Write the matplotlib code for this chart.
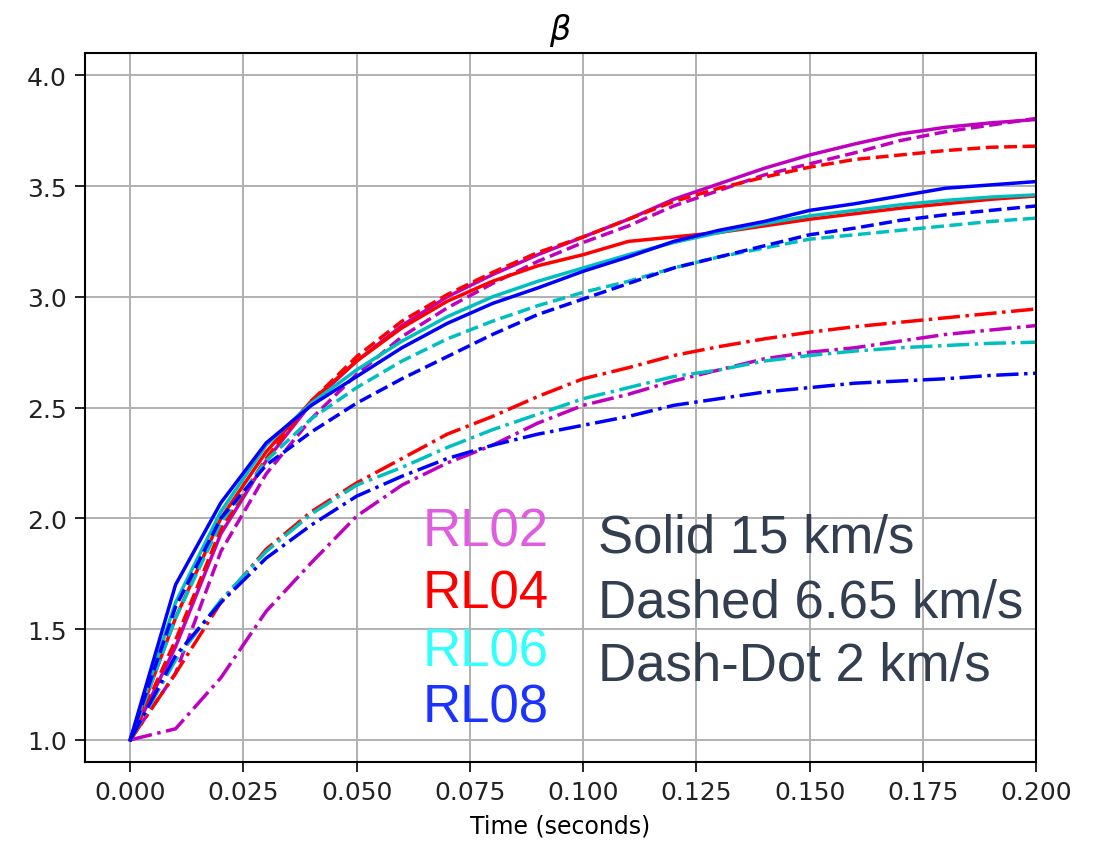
import matplotlib
matplotlib.use('Agg')
import matplotlib.pyplot as plt

# time axis (seconds)
t = [0.00, 0.01, 0.02, 0.03, 0.04, 0.05, 0.06, 0.07, 0.08, 0.09, 0.10,
     0.11, 0.12, 0.13, 0.14, 0.15, 0.16, 0.17, 0.18, 0.19, 0.20]

# Solid, 15 km/s
rl02_solid = [1.0, 1.42, 1.93, 2.26, 2.52, 2.71, 2.87, 3.00, 3.10, 3.19, 3.27,
              3.35, 3.44, 3.51, 3.58, 3.64, 3.69, 3.735, 3.765, 3.785, 3.80]
rl04_solid = [1.0, 1.55, 2.00, 2.30, 2.53, 2.71, 2.86, 2.98, 3.07, 3.14, 3.19,
              3.25, 3.27, 3.29, 3.32, 3.35, 3.375, 3.40, 3.42, 3.44, 3.455]
rl06_solid = [1.0, 1.62, 2.03, 2.33, 2.52, 2.67, 2.80, 2.91, 3.00, 3.07, 3.13,
              3.19, 3.245, 3.29, 3.33, 3.365, 3.39, 3.415, 3.435, 3.45, 3.46]
rl08_solid = [1.0, 1.70, 2.07, 2.34, 2.51, 2.64, 2.77, 2.88, 2.97, 3.04, 3.115,
              3.18, 3.25, 3.30, 3.34, 3.39, 3.42, 3.455, 3.49, 3.505, 3.52]

# Dashed, 6.65 km/s
rl02_dash = [1.0, 1.30, 1.85, 2.20, 2.45, 2.65, 2.82, 2.95, 3.06, 3.16, 3.245,
             3.32, 3.41, 3.48, 3.55, 3.60, 3.65, 3.705, 3.745, 3.775, 3.805]
rl04_dash = [1.0, 1.45, 1.95, 2.27, 2.53, 2.73, 2.89, 3.01, 3.11, 3.20, 3.27,
             3.35, 3.43, 3.49, 3.54, 3.585, 3.62, 3.64, 3.66, 3.675, 3.68]
rl06_dash = [1.0, 1.55, 1.98, 2.26, 2.45, 2.59, 2.71, 2.81, 2.89, 2.96, 3.02,
             3.07, 3.13, 3.18, 3.22, 3.26, 3.28, 3.30, 3.32, 3.34, 3.355]
rl08_dash = [1.0, 1.60, 2.00, 2.24, 2.39, 2.52, 2.63, 2.73, 2.83, 2.92, 2.99,
             3.06, 3.13, 3.18, 3.23, 3.28, 3.31, 3.345, 3.37, 3.39, 3.41]

# Dash-dot, 2 km/s
rl02_dd = [1.0, 1.05, 1.28, 1.58, 1.80, 2.01, 2.15, 2.25, 2.33, 2.43, 2.51,
           2.56, 2.62, 2.67, 2.72, 2.75, 2.77, 2.80, 2.83, 2.85, 2.87]
rl04_dd = [1.0, 1.30, 1.62, 1.86, 2.03, 2.16, 2.27, 2.38, 2.46, 2.55, 2.63,
           2.68, 2.735, 2.775, 2.81, 2.84, 2.865, 2.885, 2.905, 2.925, 2.945]
rl06_dd = [1.0, 1.36, 1.63, 1.85, 2.02, 2.15, 2.23, 2.32, 2.40, 2.47, 2.54,
           2.59, 2.64, 2.67, 2.71, 2.735, 2.755, 2.77, 2.78, 2.79, 2.795]
rl08_dd = [1.0, 1.38, 1.62, 1.82, 1.97, 2.10, 2.19, 2.27, 2.33, 2.38, 2.42,
           2.46, 2.51, 2.54, 2.57, 2.59, 2.61, 2.62, 2.63, 2.645, 2.655]

cases = ['RL02', 'RL04', 'RL06', 'RL08']
line_colors = ['m', 'r', 'c', 'b']
label_colors = ['#E05CE0', '#FF0000', '#33FFFF', '#1A33FF']
solid = [rl02_solid, rl04_solid, rl06_solid, rl08_solid]
dashed = [rl02_dash, rl04_dash, rl06_dash, rl08_dash]
dashdot = [rl02_dd, rl04_dd, rl06_dd, rl08_dd]
speed_labels = ['Solid 15 km/s', 'Dashed 6.65 km/s', 'Dash-Dot 2 km/s']

fig = plt.figure(figsize=(10.99, 8.45), dpi=100)
ax = fig.add_axes([0.0773, 0.097, 0.8654, 0.839])

for i in range(4):
    ax.plot(t, solid[i], '-', color=line_colors[i], lw=2.5)
    ax.plot(t, dashed[i], '--', color=line_colors[i], lw=2.5)
    ax.plot(t, dashdot[i], '-.', color=line_colors[i], lw=2.5)

ax.set_xlim(-0.01, 0.2)
ax.set_ylim(0.9, 4.1)
ax.set_xticks([0.0, 0.025, 0.05, 0.075, 0.1, 0.125, 0.15, 0.175, 0.2])
ax.set_yticks([1.0, 1.5, 2.0, 2.5, 3.0, 3.5, 4.0])
ax.xaxis.set_major_formatter(plt.FormatStrFormatter('%.3f'))
ax.yaxis.set_major_formatter(plt.FormatStrFormatter('%.1f'))
ax.grid(True, color='#b0b0b0', lw=1.4)
ax.tick_params(labelsize=18, length=7, width=1.4, pad=6, colors='#222222')
for s in ax.spines.values():
    s.set_linewidth(1.5)
ax.set_xlabel('Time (seconds)', fontsize=17, labelpad=7)
ax.set_title(r'$\beta$', fontsize=24, pad=10)

# case labels and line-style key
case_y = [0.3527, 0.2793, 0.2118, 0.1444]
for name, col, y in zip(cases, label_colors, case_y):
    fig.text(0.385, y, name, color=col, fontsize=38, family='Liberation Sans',
             va='baseline')
key_y = [0.3456, 0.2698, 0.1941]
for lab, y in zip(speed_labels, key_y):
    fig.text(0.544, y, lab, color='#333F50', fontsize=38,
             family='Liberation Sans', va='baseline')

fig.savefig('out.png', dpi=100)
